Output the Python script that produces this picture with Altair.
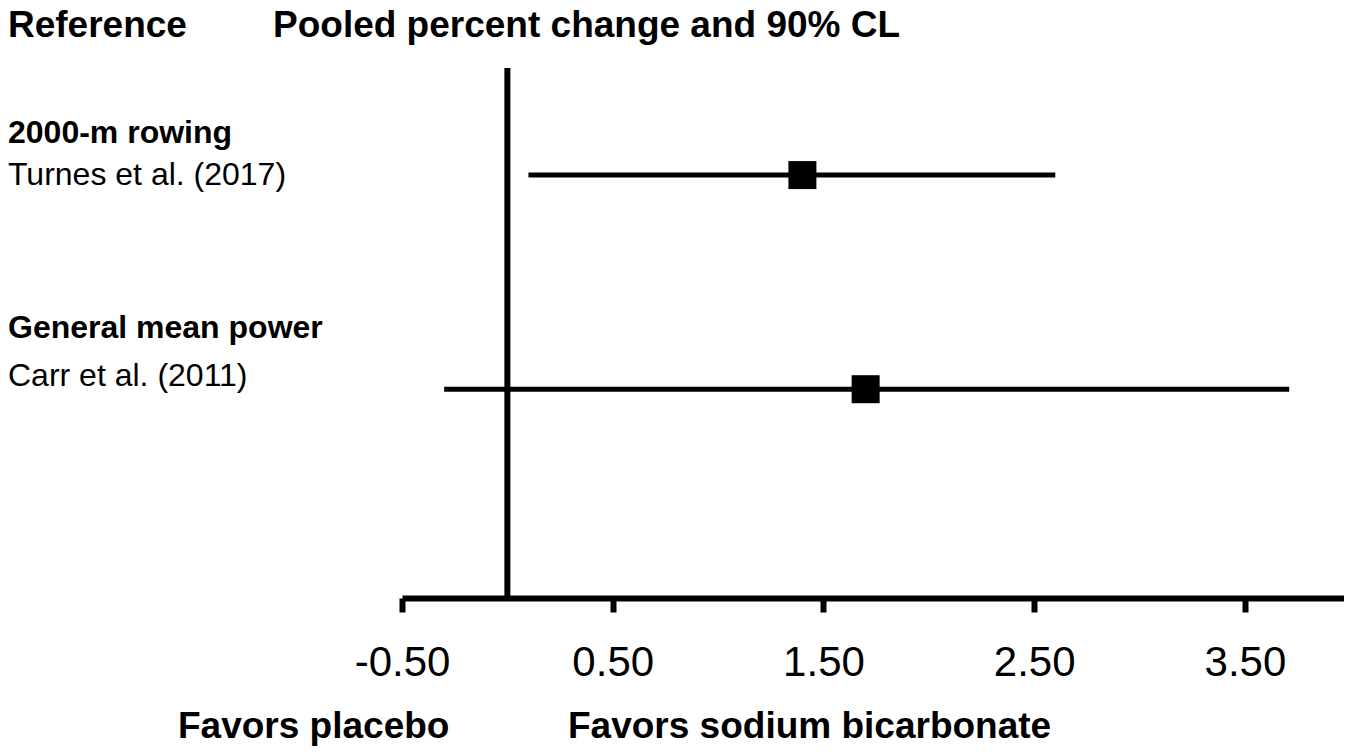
import altair as alt
import pandas as pd

# ---- data ----
groups = ["2000-m rowing", "General mean power"]
studies = ["Turnes et al. (2017)", "Carr et al. (2011)"]
estimates = [1.40, 1.70]
lower = [0.10, -0.30]
upper = [2.60, 3.71]
rows = [1, 3]
tick_values = [-0.5, 0.5, 1.5, 2.5, 3.5]
x_domain = [-0.5, 3.97]
y_domain = [0, 4.95]

left_header = "Reference"
right_header = "Pooled percent change and 90% CL"
favors_left = "Favors placebo"
favors_right = "Favors sodium bicarbonate"

df = pd.DataFrame({
    "group": groups,
    "study": studies,
    "est": estimates,
    "lo": lower,
    "hi": upper,
    "row": rows,
})

# ---- style ----
W, H = 942, 530
FONT = "Liberation Sans"
PAD_LEFT = 394
study_dy = [10, -3]
group_dy = [-32, -51]

xscale = alt.Scale(domain=x_domain, nice=False, zero=False)
yscale = alt.Scale(domain=y_domain, reverse=True, nice=False, zero=False)

base = alt.Chart(df)

x_axis = alt.Axis(
    values=tick_values, title=None, grid=False,
    labelExpr="datum.value < 0 ? '-' + format(-datum.value, '.2f') : format(datum.value, '.2f')",
    domainColor="black", domainWidth=6, tickColor="black", tickWidth=6,
    tickSize=14, labelFontSize=42, labelFont=FONT, labelColor="black",
    labelPadding=30, labelFlush=False, labelOverlap=False,
)

ci = base.mark_rule(color="black", strokeWidth=5).encode(
    x=alt.X("lo:Q", scale=xscale, axis=x_axis),
    x2="hi:Q",
    y=alt.Y("row:Q", scale=yscale, axis=None),
)

pts = base.mark_square(color="black", size=784, opacity=1, filled=True).encode(
    x=alt.X("est:Q", scale=xscale),
    y=alt.Y("row:Q", scale=yscale),
)

zero_line = alt.Chart(pd.DataFrame({"z": [0.0]})).mark_rule(
    color="black", strokeWidth=6
).encode(
    x=alt.X("z:Q", scale=xscale),
    y=alt.value(0),
    y2=alt.value(H),
)

text_layers = []
for i, st in enumerate(studies):
    sub = base.transform_filter(alt.datum.study == st)
    text_layers.append(sub.mark_text(
        align="left", baseline="alphabetic", font=FONT, fontSize=32,
        color="black", dy=study_dy[i],
    ).encode(
        x=alt.value(-PAD_LEFT),
        y=alt.Y("row:Q", scale=yscale),
        text="study:N",
    ))
    text_layers.append(sub.mark_text(
        align="left", baseline="alphabetic", font=FONT, fontSize=32,
        fontWeight="bold", color="black", dy=group_dy[i],
    ).encode(
        x=alt.value(-PAD_LEFT),
        y=alt.Y("row:Q", scale=yscale),
        text="group:N",
    ))


def label(text, x, y):
    return alt.Chart(pd.DataFrame({"t": [text]})).mark_text(
        align="left", baseline="alphabetic", font=FONT, fontSize=37,
        fontWeight="bold", color="black",
    ).encode(x=alt.value(x), y=alt.value(y), text="t:N")


chart = alt.layer(
    zero_line, ci, pts, *text_layers,
    label(left_header, -PAD_LEFT, -31),
    label(right_header, -129, -31),
    label(favors_left, -224, 670),
    label(favors_right, 166, 670),
).properties(
    width=W, height=H,
    padding={"left": PAD_LEFT, "top": 60, "right": 0, "bottom": 150},
    autosize=alt.AutoSizeParams(type="none"),
    background="white",
).configure_view(stroke=None)

chart.save("out.html", embed_options={"renderer": "svg", "actions": False})
